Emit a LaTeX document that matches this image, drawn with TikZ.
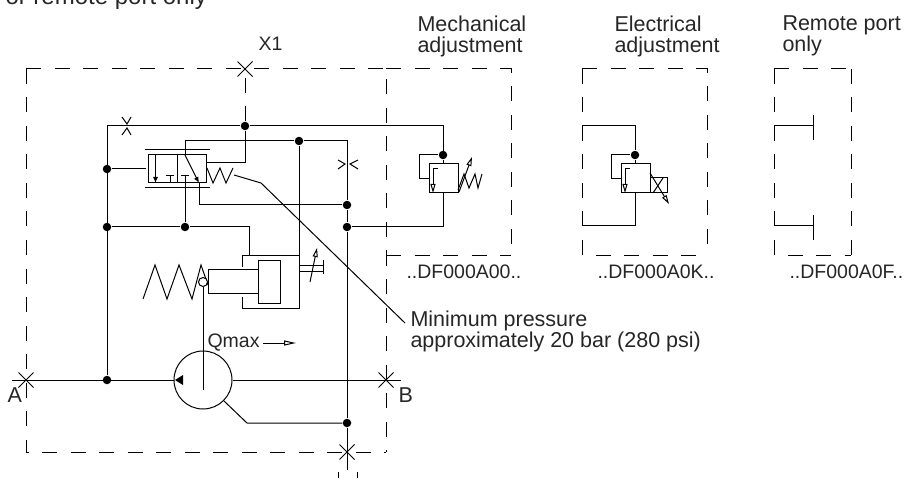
\documentclass[tikz,border=0pt]{standalone}
\usepackage{fontspec}
\setmainfont{Liberation Sans}
\usetikzlibrary{arrows.meta}
\begin{document}
\begin{tikzpicture}[x=1pt,y=-1pt,line width=1pt]
\tikzset{
  thisDot/.style={
    circle,
                   fill=black,
                   inner sep=0pt,
                   minimum size=8.5pt
    },
  thisText/.style={
    inner sep=0pt,
                   align=left,
                   text=black!85,
                   font=\fontsize{21.5}{21}\selectfont
    },
  codeText/.style={
    thisText,
                   font=\fontsize{19.5}{21}\selectfont
    },
  dashBox/.style={
    line width=1pt,
                   dash pattern=on 15pt off 13.5pt
    },
  openTip/.style={
    -{Triangle[open,length=9pt,width=5pt,fill=white]}
    }
}
\useasboundingbox (0,0) rectangle (904,478);
    % texts
    \node (top)[thisText,font=\fontsize{24}{24}\selectfont,anchor=base west] at (5,5) {or remote port only};
    \node (X1)[codeText,anchor=base west] at (258,51) {X1};
    \node (mech)[thisText,anchor=north west] at (417,15.5) {Mechanical\\adjustment};
    \node (elec)[thisText,anchor=north west] at (614,15.5) {Electrical\\adjustment};
    \node (remote)[thisText,anchor=north west] at (782,15.5) {Remote port\\only};
    \node (codeA)[codeText,anchor=base west] at (406,278) {..DF000A00..};
    \node (codeB)[codeText,anchor=base west] at (597,278) {..DF000A0K..};
    \node (codeC)[codeText,anchor=base west] at (789,278) {..DF000A0F..};
    \node (minp)[thisText,anchor=north west] at (410,310.5) {Minimum pressure\\approximately 20 bar (280 psi)};
    \node (Qmax)[codeText,anchor=base west] at (207,347) {Qmax};
    \node (labA)[thisText,anchor=base west] at (7,402) {A};
    \node (labB)[thisText,anchor=base west] at (398,402) {B};

    % dots
    \node (d1)[thisDot] at (245,126) {};
    \node (d2)[thisDot] at (299,141) {};
    \node (d3)[thisDot] at (107,169) {};
    \node (d4)[thisDot] at (107,227) {};
    \node (d5)[thisDot] at (185,227) {};
    \node (d6)[thisDot] at (347,205) {};
    \node (d7)[thisDot] at (347,227) {};
    \node (d8)[thisDot] at (107,380) {};
    \node (d9)[thisDot] at (347,423) {};
    \node (d10)[thisDot] at (443,155) {};
    \node (d11)[thisDot] at (635,155) {};

    % dashed boxes
    \draw[dashBox] (26,69) -- (386,69) -- (386,452);
    \draw[dashBox] (26,69) -- (26,452) -- (386,452);
    \draw[dashBox] (386,69) -- (511,69) -- (511,255);
    \draw[dashBox] (386,255) -- (511,255);
    \draw[dashBox] (582,69) -- (707,69) -- (707,255);
    \draw[dashBox] (582,69) -- (582,255) -- (707,255);
    \draw[dashBox] (774,69) -- (851,69);
    \draw[dashBox] (851,69) -- (851,255);
    \draw[dashBox] (774,69) -- (774,255) -- (851,255);
    \draw[dashBox] (d1) -- (245,69);
    \draw (338,478) -- (338,472);
    \draw (357,478) -- (357,472);

    % crosses
    \foreach \cx/\cy in {245/69,26/380,386/380,347/452}
        \draw[line width=0.8pt] (\cx-7.5,\cy-7.5) -- (\cx+7.5,\cy+7.5) (\cx-7.5,\cy+7.5) -- (\cx+7.5,\cy-7.5);

    % main lines
    \coordinate (pump) at (203,380);
    \node (pumpC)[circle,draw,inner sep=0pt,minimum size=58pt] at (pump) {};
    \coordinate (Aend) at (12,380);
    \coordinate (Bend) at (401,380);
    \coordinate (low) at (347,470);
    \draw (Aend) -- (pumpC.west);
    \draw (pumpC.east) -- (Bend);
    \draw (d8) |- (d1) -| (443,155);
    \draw (d3) -- (146,169);
    \draw (d4) -- (d5) -- (249,227) -- (249,255);
    \draw (d7) -- (d9) -- (low);
    \draw (d9) -- (247,423) -- (224,401);
    \draw (d1) |- (206,163);
    \draw (185,155) -- (185,141) -- (d2) -- (347,141) -- (d6) -- (d7);
    \draw (d6) -- (199,205) -- (199,183);
    \draw (d7) -- (443,227) -- (443,193);
    \draw (d2) -- (299,255);
    \draw (d5) -- (185,176);

    % restrictors
    \draw (122,117) -- (127,124) -- (131,117) (122,135) -- (127,128) -- (131,135);
    \draw (338,160) -- (345,164) -- (338,169) (358,160) -- (350,164) -- (358,169);

    % valve
    \draw (148,155) rectangle (206,183);
    \draw (177,155) -- (177,183);
    \draw (145,150) -- (210,150) (145,188) -- (210,188);
    \draw[-{Latex[length=6pt,width=5pt]}] (155.5,155) -- (155.5,183);
    \draw (170,183) -- (170,176) (166,176) -- (174,176);
    \draw (181,176) -- (189,176);
    \draw[-{Latex[length=6pt,width=5pt]}] (185,155) -- (199,183);
    \draw (207,168) -- (213,183) -- (220,168) -- (226,183) -- (233,168);
    \draw (234,175) -- (261,183) -- (405,323);

    % cylinder
    \draw (242,267) -- (242,255) -- (299,255) -- (299,308) -- (242,308) -- (242,297);
    \draw (258,260) rectangle (280,303);
    \draw (258,269) -- (208,269) -- (208,293) -- (258,293);
    \draw (143,299) -- (155,265) -- (167,299) -- (179,265) -- (192,299) -- (201,265) -- (208,285);
    \node (ball)[circle,draw,fill=white,inner sep=0pt,minimum size=9pt] at (203,282) {};
    \draw (ball) -- (203,390);
    \draw (299,265) -- (323,265) (299,271) -- (323,271) (323,260) -- (323,274);
    \draw[openTip] (310,282) -- (317,248);

    % pump arrows
    \fill (175,380) -- (183,375) -- (183,385) -- cycle;
    \draw[-{Triangle[open,length=12pt,width=5pt,fill=white]}] (263,343) -- (296,343);

    % mechanical adjustment
    \draw (d10) -- (443,126);
    \draw (d10) -- (419,155) -- (419,179) -- (429,179);
    \draw (d10) -- (443,164);
    \draw (429,164) rectangle (458,193);
    \draw (438,169) -- (433,169);
    \draw[openTip] (433,169) -- (433,193);
    \draw (458,190) -- (464,174) -- (469,188) -- (475,174) -- (478,188) -- (482,174);
    \draw[openTip] (459,192) -- (472,157);

    % electrical adjustment
    \draw (582,126) -- (635,126) -- (d11);
    \draw (d11) -- (611,155) -- (611,179) -- (621,179);
    \draw (d11) -- (635,164);
    \draw (621,164) rectangle (650,193);
    \draw (635,193) -- (635,226) -- (582,226);
    \draw (630,169) -- (625,169);
    \draw[openTip] (625,169) -- (625,193);
    \draw (650,178) rectangle (667,193);
    \draw (653,193) -- (663,178);
    \draw[openTip] (650,173) -- (669,204);

    % remote port
    \draw (774,126) -- (813,126) (813,115) -- (813,140);
    \draw (774,226) -- (813,226) (813,215) -- (813,240);
\end{tikzpicture}
\end{document}
